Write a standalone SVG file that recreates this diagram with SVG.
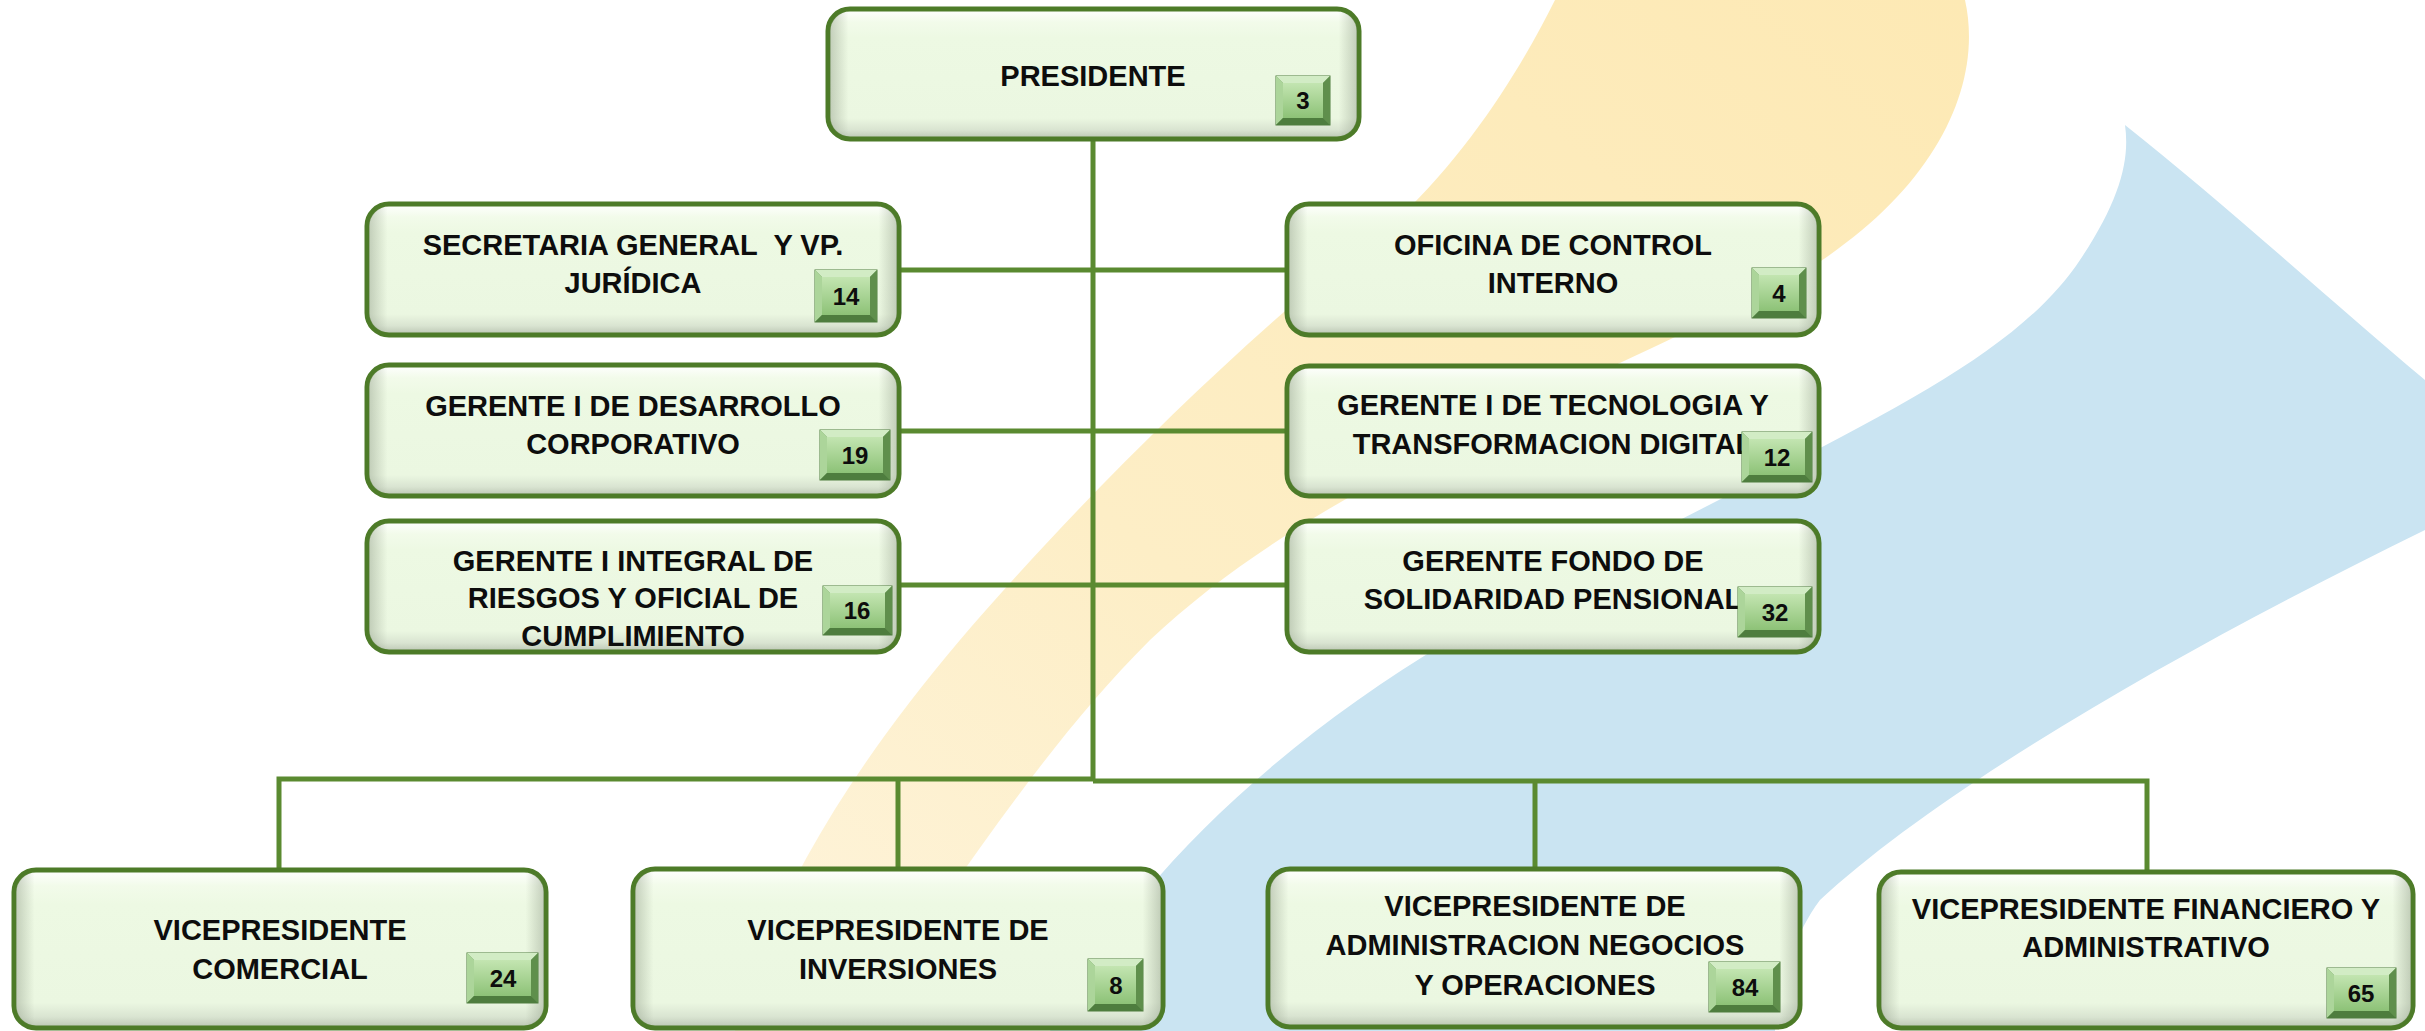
<svg xmlns="http://www.w3.org/2000/svg" width="2425" height="1031" viewBox="0 0 2425 1031">
<defs>
<linearGradient id="boxV" x1="0" y1="0" x2="0" y2="1">
<stop offset="0" stop-color="#ffffff"/>
<stop offset="0.1" stop-color="#f2fbea"/>
<stop offset="0.22" stop-color="#edf9e3"/>
<stop offset="0.84" stop-color="#ebf7e1"/>
<stop offset="0.93" stop-color="#d9e4d1"/>
<stop offset="1" stop-color="#b9c4b1"/>
</linearGradient>
<linearGradient id="boxH" x1="0" y1="0" x2="1" y2="0">
<stop offset="0" stop-color="#8e9a86" stop-opacity="0.45"/>
<stop offset="0.035" stop-color="#8e9a86" stop-opacity="0"/>
<stop offset="0.965" stop-color="#8e9a86" stop-opacity="0"/>
<stop offset="1" stop-color="#8e9a86" stop-opacity="0.45"/>
</linearGradient>
<linearGradient id="badgeIn" x1="0" y1="0" x2="0" y2="1">
<stop offset="0" stop-color="#c3e5b1"/>
<stop offset="1" stop-color="#8dc277"/>
</linearGradient>
<linearGradient id="yel" x1="1" y1="0" x2="0" y2="1">
<stop offset="0" stop-color="#fde9b4"/>
<stop offset="0.6" stop-color="#fdeec6"/>
<stop offset="1" stop-color="#fef4dc"/>
</linearGradient>
<style>
.box{stroke:#4d7b28;stroke-width:5;fill:url(#boxV)}
.boxh{fill:url(#boxH)}
.t{font-family:"Liberation Sans",Arial,sans-serif;font-weight:bold;font-size:29px;fill:#0d0d0d;text-anchor:middle}
.n{font-family:"Liberation Sans",Arial,sans-serif;font-weight:bold;font-size:24px;fill:#0d0d0d;text-anchor:middle}
.bo{fill:#6f9e5a;stroke:#4f7c3f;stroke-width:1}
.bt{fill:#d2ecc5}
.bl{fill:#acd59a}
.br{fill:#5f8f4c}
.bb{fill:#4e7d3e}
.bi{fill:url(#badgeIn)}
.ln{stroke:#5a8a30;stroke-width:5;fill:none}
</style>
</defs>
<rect width="2425" height="1031" fill="#ffffff"/>
<g id="background">
<path d="M1555,0 L1965,0 C1985,90 1930,200 1790,280 C1560,400 1320,480 1150,640 C1040,750 960,880 850,1031 L735,1031 C770,900 850,770 960,640 C1080,500 1250,330 1400,217 C1470,150 1520,70 1555,0 Z" fill="url(#yel)"/>
<path d="M2125,125 C2220,200 2330,300 2425,380 L2425,530 C2200,640 1950,780 1820,900 C1790,940 1780,990 1775,1031 L1050,1031 C1120,900 1250,760 1450,640 C1800,450 2000,380 2080,260 C2120,200 2130,160 2125,125 Z" fill="#cae4f2"/>
</g>
<g id="connectors">
<path class="ln" d="M1093,139 V781"/>
<path class="ln" d="M897,270 H1287"/>
<path class="ln" d="M897,431 H1287"/>
<path class="ln" d="M897,585 H1287"/>
<path class="ln" d="M279,870 V779 H1093"/>
<path class="ln" d="M1093,781 H2147 V872"/>
<path class="ln" d="M898,779 V869"/>
<path class="ln" d="M1535,781 V869"/>
</g>
<g id="n-presidente">
<rect class="box" x="828" y="9" width="531" height="130" rx="22"/>
<rect class="boxh" x="830" y="11" width="527" height="126" rx="20"/>
<text class="t" x="1093" y="86">PRESIDENTE</text>
<g><rect class="bo" x="1276" y="76" width="54" height="49"/><polygon class="bt" points="1276,76 1330,76 1323,83 1283,83"/><polygon class="bl" points="1276,76 1283,83 1283,118 1276,125"/><polygon class="br" points="1330,76 1330,125 1323,118 1323,83"/><polygon class="bb" points="1276,125 1330,125 1323,118 1283,118"/><rect class="bi" x="1283" y="83" width="40" height="35"/><text class="n" x="1303" y="109">3</text></g>
</g>
<g id="n-secretaria">
<rect class="box" x="367" y="204" width="532" height="131" rx="22"/>
<rect class="boxh" x="369" y="206" width="528" height="127" rx="20"/>
<text class="t" x="633" y="255">SECRETARIA GENERAL&#160; Y VP.</text>
<text class="t" x="633" y="293">JURÍDICA</text>
<g><rect class="bo" x="815" y="270" width="62" height="52"/><polygon class="bt" points="815,270 877,270 870,277 822,277"/><polygon class="bl" points="815,270 822,277 822,315 815,322"/><polygon class="br" points="877,270 877,322 870,315 870,277"/><polygon class="bb" points="815,322 877,322 870,315 822,315"/><rect class="bi" x="822" y="277" width="48" height="38"/><text class="n" x="846" y="305">14</text></g>
</g>
<g id="n-desarrollo">
<rect class="box" x="367" y="365" width="532" height="131" rx="22"/>
<rect class="boxh" x="369" y="367" width="528" height="127" rx="20"/>
<text class="t" x="633" y="416">GERENTE I DE DESARROLLO</text>
<text class="t" x="633" y="454">CORPORATIVO</text>
<g><rect class="bo" x="820" y="430" width="70" height="50"/><polygon class="bt" points="820,430 890,430 883,437 827,437"/><polygon class="bl" points="820,430 827,437 827,473 820,480"/><polygon class="br" points="890,430 890,480 883,473 883,437"/><polygon class="bb" points="820,480 890,480 883,473 827,473"/><rect class="bi" x="827" y="437" width="56" height="36"/><text class="n" x="855" y="464">19</text></g>
</g>
<g id="n-riesgos">
<rect class="box" x="367" y="521" width="532" height="131" rx="22"/>
<rect class="boxh" x="369" y="523" width="528" height="127" rx="20"/>
<text class="t" x="633" y="571">GERENTE I INTEGRAL DE</text>
<text class="t" x="633" y="608">RIESGOS Y OFICIAL DE</text>
<text class="t" x="633" y="646">CUMPLIMIENTO</text>
<g><rect class="bo" x="823" y="586" width="69" height="49"/><polygon class="bt" points="823,586 892,586 885,593 830,593"/><polygon class="bl" points="823,586 830,593 830,628 823,635"/><polygon class="br" points="892,586 892,635 885,628 885,593"/><polygon class="bb" points="823,635 892,635 885,628 830,628"/><rect class="bi" x="830" y="593" width="55" height="35"/><text class="n" x="857" y="619">16</text></g>
</g>
<g id="n-control">
<rect class="box" x="1287" y="204" width="532" height="131" rx="22"/>
<rect class="boxh" x="1289" y="206" width="528" height="127" rx="20"/>
<text class="t" x="1553" y="255">OFICINA DE CONTROL</text>
<text class="t" x="1553" y="293">INTERNO</text>
<g><rect class="bo" x="1752" y="268" width="54" height="50"/><polygon class="bt" points="1752,268 1806,268 1799,275 1759,275"/><polygon class="bl" points="1752,268 1759,275 1759,311 1752,318"/><polygon class="br" points="1806,268 1806,318 1799,311 1799,275"/><polygon class="bb" points="1752,318 1806,318 1799,311 1759,311"/><rect class="bi" x="1759" y="275" width="40" height="36"/><text class="n" x="1779" y="302">4</text></g>
</g>
<g id="n-tecnologia">
<rect class="box" x="1287" y="366" width="532" height="130" rx="22"/>
<rect class="boxh" x="1289" y="368" width="528" height="126" rx="20"/>
<text class="t" x="1553" y="415">GERENTE I DE TECNOLOGIA Y</text>
<text class="t" x="1553" y="454">TRANSFORMACION DIGITAL</text>
<g><rect class="bo" x="1742" y="432" width="70" height="50"/><polygon class="bt" points="1742,432 1812,432 1805,439 1749,439"/><polygon class="bl" points="1742,432 1749,439 1749,475 1742,482"/><polygon class="br" points="1812,432 1812,482 1805,475 1805,439"/><polygon class="bb" points="1742,482 1812,482 1805,475 1749,475"/><rect class="bi" x="1749" y="439" width="56" height="36"/><text class="n" x="1777" y="466">12</text></g>
</g>
<g id="n-fondo">
<rect class="box" x="1287" y="521" width="532" height="131" rx="22"/>
<rect class="boxh" x="1289" y="523" width="528" height="127" rx="20"/>
<text class="t" x="1553" y="571">GERENTE FONDO DE</text>
<text class="t" x="1553" y="609">SOLIDARIDAD PENSIONAL</text>
<g><rect class="bo" x="1738" y="587" width="74" height="50"/><polygon class="bt" points="1738,587 1812,587 1805,594 1745,594"/><polygon class="bl" points="1738,587 1745,594 1745,630 1738,637"/><polygon class="br" points="1812,587 1812,637 1805,630 1805,594"/><polygon class="bb" points="1738,637 1812,637 1805,630 1745,630"/><rect class="bi" x="1745" y="594" width="60" height="36"/><text class="n" x="1775" y="621">32</text></g>
</g>
<g id="n-comercial">
<rect class="box" x="14" y="870" width="532" height="158" rx="22"/>
<rect class="boxh" x="16" y="872" width="528" height="154" rx="20"/>
<text class="t" x="280" y="940">VICEPRESIDENTE</text>
<text class="t" x="280" y="979">COMERCIAL</text>
<g><rect class="bo" x="467" y="953" width="71" height="50"/><polygon class="bt" points="467,953 538,953 531,960 474,960"/><polygon class="bl" points="467,953 474,960 474,996 467,1003"/><polygon class="br" points="538,953 538,1003 531,996 531,960"/><polygon class="bb" points="467,1003 538,1003 531,996 474,996"/><rect class="bi" x="474" y="960" width="57" height="36"/><text class="n" x="503" y="987">24</text></g>
</g>
<g id="n-inversiones">
<rect class="box" x="633" y="869" width="530" height="159" rx="22"/>
<rect class="boxh" x="635" y="871" width="526" height="155" rx="20"/>
<text class="t" x="898" y="940">VICEPRESIDENTE DE</text>
<text class="t" x="898" y="979">INVERSIONES</text>
<g><rect class="bo" x="1088" y="959" width="55" height="52"/><polygon class="bt" points="1088,959 1143,959 1136,966 1095,966"/><polygon class="bl" points="1088,959 1095,966 1095,1004 1088,1011"/><polygon class="br" points="1143,959 1143,1011 1136,1004 1136,966"/><polygon class="bb" points="1088,1011 1143,1011 1136,1004 1095,1004"/><rect class="bi" x="1095" y="966" width="41" height="38"/><text class="n" x="1116" y="994">8</text></g>
</g>
<g id="n-operaciones">
<rect class="box" x="1268" y="869" width="532" height="158" rx="22"/>
<rect class="boxh" x="1270" y="871" width="528" height="154" rx="20"/>
<text class="t" x="1535" y="916">VICEPRESIDENTE DE</text>
<text class="t" x="1535" y="955">ADMINISTRACION NEGOCIOS</text>
<text class="t" x="1535" y="995">Y OPERACIONES</text>
<g><rect class="bo" x="1709" y="962" width="71" height="50"/><polygon class="bt" points="1709,962 1780,962 1773,969 1716,969"/><polygon class="bl" points="1709,962 1716,969 1716,1005 1709,1012"/><polygon class="br" points="1780,962 1780,1012 1773,1005 1773,969"/><polygon class="bb" points="1709,1012 1780,1012 1773,1005 1716,1005"/><rect class="bi" x="1716" y="969" width="57" height="36"/><text class="n" x="1745" y="996">84</text></g>
</g>
<g id="n-financiero">
<rect class="box" x="1879" y="872" width="534" height="156" rx="22"/>
<rect class="boxh" x="1881" y="874" width="530" height="152" rx="20"/>
<text class="t" x="2146" y="919">VICEPRESIDENTE FINANCIERO Y</text>
<text class="t" x="2146" y="957">ADMINISTRATIVO</text>
<g><rect class="bo" x="2327" y="968" width="69" height="50"/><polygon class="bt" points="2327,968 2396,968 2389,975 2334,975"/><polygon class="bl" points="2327,968 2334,975 2334,1011 2327,1018"/><polygon class="br" points="2396,968 2396,1018 2389,1011 2389,975"/><polygon class="bb" points="2327,1018 2396,1018 2389,1011 2334,1011"/><rect class="bi" x="2334" y="975" width="55" height="36"/><text class="n" x="2361" y="1002">65</text></g>
</g>
</svg>
